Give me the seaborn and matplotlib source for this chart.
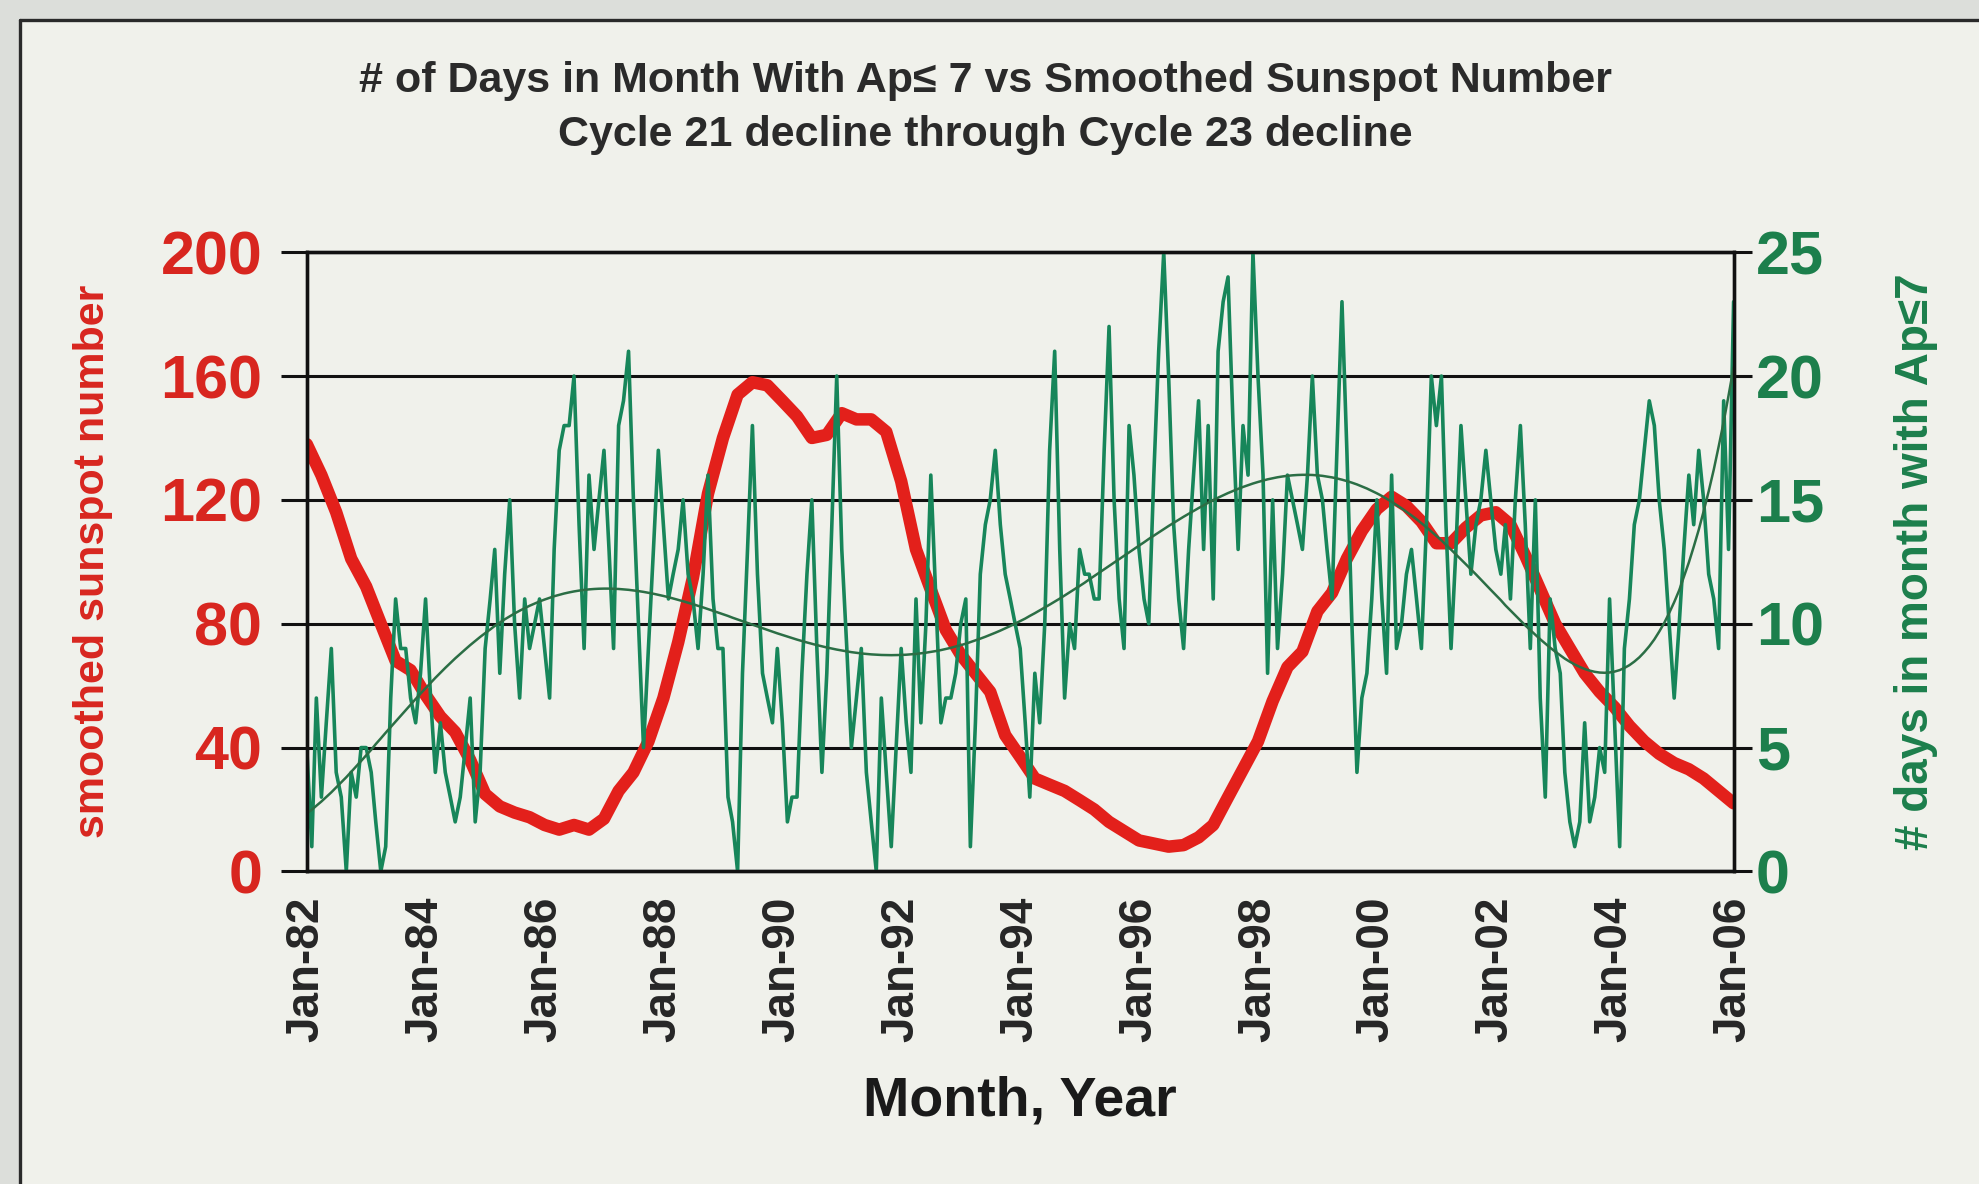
import numpy as np
import pandas as pd
import matplotlib
matplotlib.use("Agg")
import matplotlib.pyplot as plt
import matplotlib.dates as mdates
import seaborn as sns
from matplotlib.patches import Rectangle
from matplotlib.lines import Line2D

# number of days in each month with Ap <= 7, Jan 1982 .. Jan 2006
quiet_days = [
    5, 1, 7, 3, 6, 9, 4, 3, 0, 4, 3, 5,          # 1982
    5, 4, 2, 0, 1, 7, 11, 9, 9, 7, 6, 8,         # 1983
    11, 7, 4, 6, 4, 3, 2, 3, 5, 7, 2, 4,         # 1984
    9, 11, 13, 8, 12, 15, 10, 7, 11, 9, 10, 11,  # 1985
    9, 7, 13, 17, 18, 18, 20, 14, 9, 16, 13, 15,  # 1986
    17, 13, 9, 18, 19, 21, 15, 10, 5, 9, 13, 17,  # 1987
    14, 11, 12, 13, 15, 12, 11, 9, 12, 16, 11, 9,  # 1988
    9, 3, 2, 0, 8, 13, 18, 12, 8, 7, 6, 9,       # 1989
    6, 2, 3, 3, 8, 12, 15, 9, 4, 8, 14, 20,      # 1990
    13, 9, 5, 7, 9, 4, 2, 0, 7, 4, 1, 5,         # 1991
    9, 6, 4, 11, 6, 10, 16, 11, 6, 7, 7, 8,      # 1992
    10, 11, 1, 6, 12, 14, 15, 17, 14, 12, 11, 10,  # 1993
    9, 6, 3, 8, 6, 10, 17, 21, 13, 7, 10, 9,     # 1994
    13, 12, 12, 11, 11, 17, 22, 15, 11, 9, 18, 16,  # 1995
    13, 11, 10, 16, 21, 25, 20, 14, 11, 9, 13, 16,  # 1996
    19, 13, 18, 11, 21, 23, 24, 18, 13, 18, 16, 25,  # 1997
    20, 16, 8, 15, 9, 12, 16, 15, 14, 13, 16, 20,  # 1998
    16, 15, 13, 11, 17, 23, 17, 10, 4, 7, 8, 11,  # 1999
    15, 11, 8, 16, 9, 10, 12, 13, 11, 9, 14, 20,  # 2000
    18, 20, 14, 9, 13, 18, 15, 12, 14, 15, 17, 15,  # 2001
    13, 12, 14, 11, 15, 18, 14, 9, 15, 7, 3, 11,  # 2002
    9, 8, 4, 2, 1, 2, 6, 2, 3, 5, 4, 11,         # 2003
    6, 1, 9, 11, 14, 15, 17, 19, 18, 15, 13, 10,  # 2004
    7, 10, 13, 16, 14, 17, 15, 12, 11, 9, 19, 13,  # 2005
    23,                                          # Jan 2006
]

# smoothed sunspot number read every third month (Jan, Apr, Jul, Oct)
sunspots = [
    138, 128, 116, 101,   # 1982
    92, 80, 68, 65,       # 1983
    57, 50, 45, 36,       # 1984
    25, 21, 19, 17.5,     # 1985
    15, 13.5, 15, 13.5,   # 1986
    17, 26, 32, 42,       # 1987
    56, 74, 95, 122,      # 1988
    140, 154, 158, 157,   # 1989
    152, 147, 140, 141,   # 1990
    148, 146, 146, 142,   # 1991
    126, 104, 91, 78,     # 1992
    70, 64, 58, 44,       # 1993
    37, 30, 28, 26,       # 1994
    23, 20, 16, 13,       # 1995
    10, 9, 8, 8.5,        # 1996
    11, 15, 24, 33,       # 1997
    42, 55, 66, 71,       # 1998
    84, 90, 101, 110,     # 1999
    117, 121, 118, 113,   # 2000
    106, 106, 111, 115,   # 2001
    116, 112, 102, 91,    # 2002
    80, 72, 64, 58,       # 2003
    53, 47, 42, 38,       # 2004
    35, 33, 30, 26,       # 2005
    22,                   # Jan 2006
]

left_ticks = [0, 40, 80, 120, 160, 200]
right_ticks = [0, 5, 10, 15, 20, 25]

title_text = ("# of Days in Month With Ap\u2264 7 vs Smoothed Sunspot Number\n"
              "Cycle 21 decline through Cycle 23 decline")

RED = "#e3201b"
GREEN = "#17865a"
TREND = "#2b6e45"
TEXT_RED = "#d8261f"
TEXT_GREEN = "#1c7f4c"

months = pd.date_range("1982-01-01", "2006-01-01", freq="MS")
quarters = pd.date_range("1982-01-01", "2006-01-01", freq="3MS")
green_df = pd.DataFrame({"date": months, "days": quiet_days})
red_df = pd.DataFrame({"date": quarters, "ssn": sunspots})

# 6th order polynomial trend line, like the spreadsheet one
t = (months.year + (months.month - 1) / 12.0 - 1994) / 12.0
coef = np.polyfit(t, green_df["days"], 6)
green_df["trend"] = np.polyval(coef, t)

sns.set_style("white")
plt.rcParams["font.family"] = ["Liberation Sans", "DejaVu Sans"]
plt.rcParams["font.weight"] = "bold"

fig = plt.figure(figsize=(19.79, 11.84), dpi=100)
fig.patch.set_facecolor("#dcdeda")
# chart area with a dark frame on the top and left edges
fig.patches.append(Rectangle((0.010, 0.0), 0.99, 0.983, transform=fig.transFigure,
                             facecolor="#f0f1eb", edgecolor="none", zorder=-10))
fig.lines.append(Line2D([0.010, 1.0], [0.983, 0.983], transform=fig.transFigure,
                        color="#2a2a2a", linewidth=2.4))
fig.lines.append(Line2D([0.010, 0.010], [0.0, 0.983], transform=fig.transFigure,
                        color="#2a2a2a", linewidth=2.4))

ax = fig.add_axes([0.155, 0.264, 0.721, 0.523])
ax.set_facecolor("none")
ax2 = ax.twinx()

sns.lineplot(data=red_df, x="date", y="ssn", ax=ax, color=RED, linewidth=9,
             solid_capstyle="round")
sns.lineplot(data=green_df, x="date", y="days", ax=ax2, color=GREEN, linewidth=2.6)
sns.lineplot(data=green_df, x="date", y="trend", ax=ax2, color=TREND, linewidth=1.8)

ax.set_xlim(months[0], months[-1])
ax.set_ylim(0, 200)
ax2.set_ylim(0, 25)
ax.set_yticks(left_ticks)
ax2.set_yticks(right_ticks)

ax.grid(axis="y", color="#111111", linewidth=2.2)
ax.grid(axis="x", visible=False)
ax2.grid(False)

ax.xaxis.set_major_locator(mdates.YearLocator(2, month=1, day=1))
ax.xaxis.set_minor_locator(mdates.YearLocator(1, month=1, day=1))
ax.xaxis.set_major_formatter(mdates.DateFormatter("%b-%y"))

ax.tick_params(axis="x", which="both", direction="out", length=10, width=2.2,
               color="#111111", labelsize=33, labelrotation=90, pad=8)
ax.tick_params(axis="y", direction="out", length=19, width=2.2, color="#111111",
               labelsize=44, labelcolor=TEXT_RED, pad=13)
ax2.tick_params(axis="y", direction="out", length=13, width=2.2, color="#111111",
                labelsize=44, labelcolor=TEXT_GREEN, pad=3)
for lab in ax.get_xticklabels():
    lab.set_fontweight("bold")

for a in (ax, ax2):
    for side in ("left", "right", "bottom", "top"):
        a.spines[side].set_color("#111111")
        a.spines[side].set_linewidth(2.4)

ax.set_xlabel("Month, Year", fontsize=40, fontweight="bold", color="#1a1a1a", labelpad=24)
ax.set_ylabel("smoothed sunspot number", fontsize=31, fontweight="bold",
              color=TEXT_RED, labelpad=34)
ax2.set_ylabel("# days in month with Ap\u22647", fontsize=33, fontweight="bold",
               color=TEXT_GREEN, labelpad=50)

fig.text(0.498, 0.909, title_text, ha="center", va="center", fontsize=31,
         fontweight="bold", color="#2a2a2a", linespacing=1.45)

fig.savefig("out.png", dpi=100, facecolor=fig.get_facecolor())
